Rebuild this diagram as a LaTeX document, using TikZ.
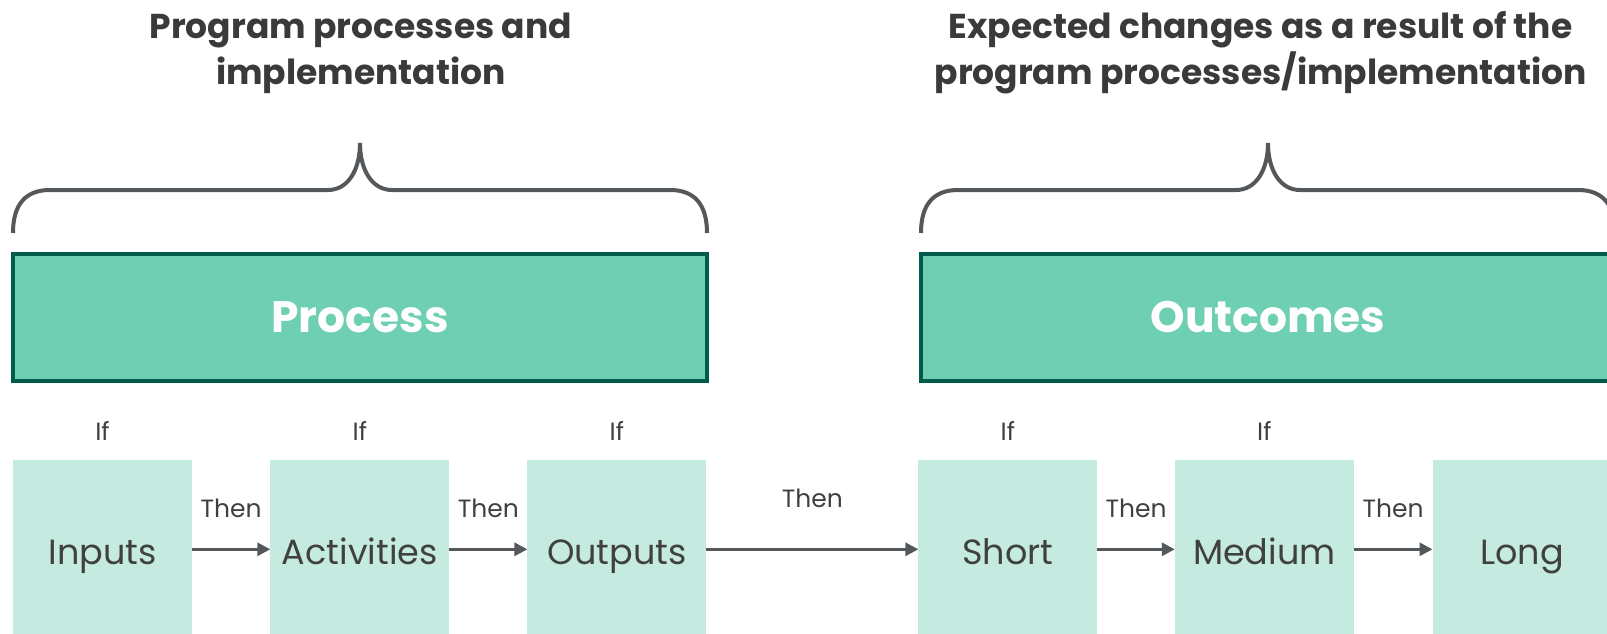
\documentclass[tikz,border=0pt]{standalone}
\usepackage{fontspec}
\setmainfont{Poppins}
\usetikzlibrary{arrows.meta}
\definecolor{boxgreen}{HTML}{6FCFB3}
\definecolor{darkgreen}{HTML}{005B4B}
\definecolor{palegreen}{HTML}{C5EBE0}
\definecolor{textgray}{HTML}{404040}
\definecolor{titlegray}{HTML}{3A3A3A}
\definecolor{linegray}{HTML}{54585A}
\tikzset{
  bigbox/.style={draw=darkgreen, line width=4pt, fill=boxgreen, minimum width=694pt, minimum height=127pt,
    inner sep=0pt, outer sep=0pt, text=white, font=\fontsize{44}{44}\selectfont\bfseries},
  stagebox/.style={fill=palegreen, minimum width=179pt, minimum height=178pt, text height=36pt, text depth=6.6pt,
    inner sep=0pt, outer sep=0pt, text=textgray, font=\fontsize{35}{35}\selectfont},
  iflabel/.style={anchor=base, text=textgray, font=\fontsize{25}{25}\selectfont},
  thenlabel/.style={anchor=base, text=textgray, font=\fontsize{25}{25}\selectfont, yshift=32pt},
  flow/.style={-{Triangle[length=13pt,width=13pt]}, line width=3pt, draw=linegray},
  brace/.style={line width=4pt, draw=linegray},
  title/.style={align=center, text=titlegray, font=\fontsize{34.5}{46}\selectfont\bfseries}
}
\begin{document}
\begin{tikzpicture}[x=1pt,y=-1pt]
\useasboundingbox (0,0) rectangle (1607,634);
% headings
\node[title] (proctitle) at (360.8,53) {Program processes and\\implementation};
\node[title] (outtitle) at (1260.6,53) {Expected changes as a result of the\\program processes/implementation};
% braces
\foreach \c in {360,1268}
  \draw[brace] (\c-347,233) .. controls (\c-347,205) and (\c-335,190) .. (\c-310,190) -- (\c-32,190)
    .. controls (\c-12,190) and (\c,170) .. (\c,143) .. controls (\c,170) and (\c+12,190) .. (\c+32,190)
    -- (\c+310,190) .. controls (\c+335,190) and (\c+347,205) .. (\c+347,233);
% big boxes
\node[bigbox] (process) at (360,317.5) {Process};
\node[bigbox] (outcomes) at (1268,317.5) {Outcomes};
% stages
\node[stagebox] (inputs) at (102.5,549.3) {Inputs};
\node[stagebox] (activities) at (359.8,549.3) {Activities};
\node[stagebox] (outputs) at (616.9,549.3) {Outputs};
\node[stagebox] (short) at (1007.9,549.3) {Short};
\node[stagebox] (medium) at (1264.3,549.3) {Medium};
\node[stagebox] (long) at (1522,549.3) {Long};
\node[iflabel] (ifinputs) at ([yshift=20pt]inputs.north) {If};
\node[iflabel] (ifactivities) at ([yshift=20pt]activities.north) {If};
\node[iflabel] (ifoutputs) at ([yshift=20pt]outputs.north) {If};
\node[iflabel] (ifshort) at ([yshift=20pt]short.north) {If};
\node[iflabel] (ifmedium) at ([yshift=20pt]medium.north) {If};
% arrows
\draw[flow] (inputs) -- node[thenlabel] {Then} (activities);
\draw[flow] (activities) -- node[thenlabel] {Then} (outputs);
\draw[flow] (outputs) -- node[thenlabel, yshift=10pt] {Then} (short);
\draw[flow] (short) -- node[thenlabel] {Then} (medium);
\draw[flow] (medium) -- node[thenlabel] {Then} (long);
\end{tikzpicture}
\end{document}
